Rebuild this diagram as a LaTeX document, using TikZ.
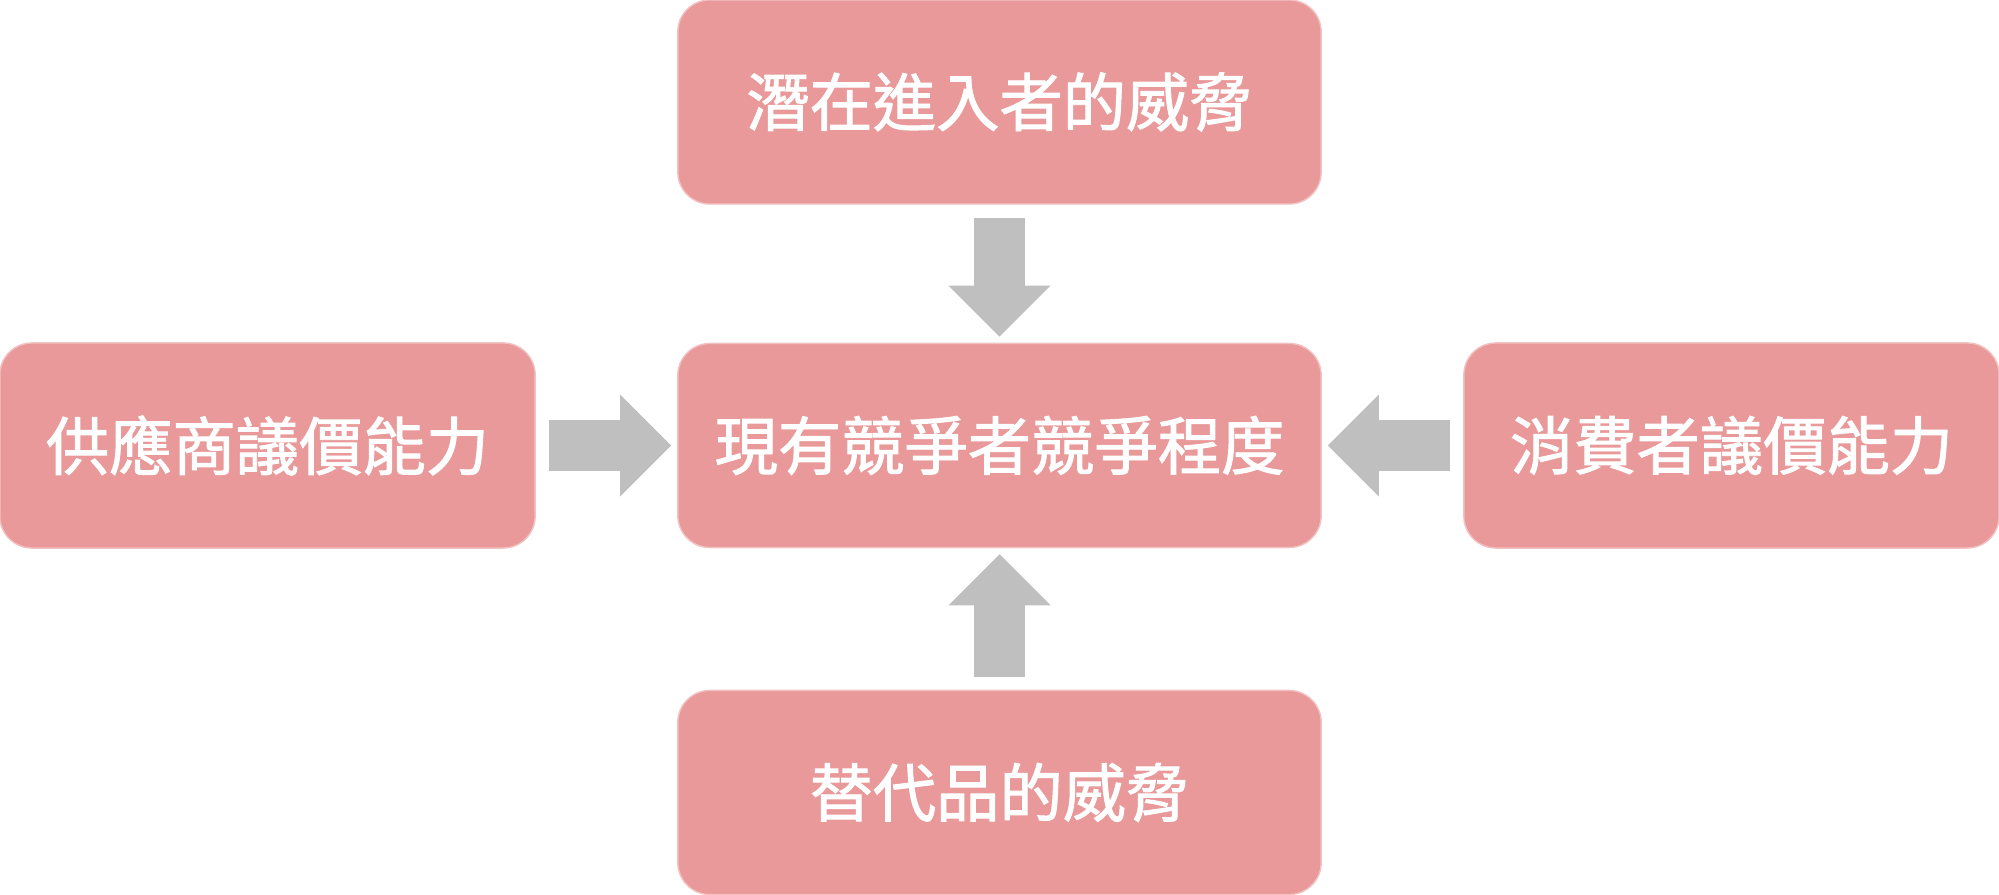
\documentclass[tikz,border=0pt]{standalone}
\usepackage{fontspec}
\newfontfamily\cjk{Noto Sans CJK TC}[FakeBold=1.5]
\usetikzlibrary{arrows.meta}
\definecolor{boxpink}{RGB}{233,153,153}
\definecolor{arrowgray}{RGB}{191,191,191}

\begin{document}
\begin{tikzpicture}
    [x=0.01cm, y=-0.01cm,
     force/.style={fill=boxpink, draw=boxpink!60!white, thin, rounded corners=0.32cm, inner sep=0pt, text=white, font=\cjk\fontsize{18}{22}\selectfont},
     wide/.style={minimum width=6.43cm, minimum height=2.04cm},
     side/.style={minimum width=5.35cm, minimum height=2.05cm},
     push/.style={draw=arrowgray, line width=0.51cm, -{Triangle[width=1.02cm, length=0.51cm, line width=0pt]}, shorten <=0.13cm, shorten >=0.06cm}]
  \useasboundingbox (0,0) rectangle (1999,895);

  \node[force, wide] (entrant) at (999.5,102) {潛在進入者的威脅};
  \node[force, wide] (rivalry) at (999.5,445.5) {現有競爭者競爭程度};
  \node[force, side] (supplier) at (267.5,445.5) {供應商議價能力};
  \node[force, side] (buyer) at (1731.5,445.5) {消費者議價能力};
  \node[force, wide] (substitute) at (999.5,792.5) {替代品的威脅};

  \foreach \from/\to in {entrant/rivalry, supplier/rivalry, buyer/rivalry, substitute/rivalry}
    \draw[push] (\from) -- (\to);
\end{tikzpicture}
\end{document}
